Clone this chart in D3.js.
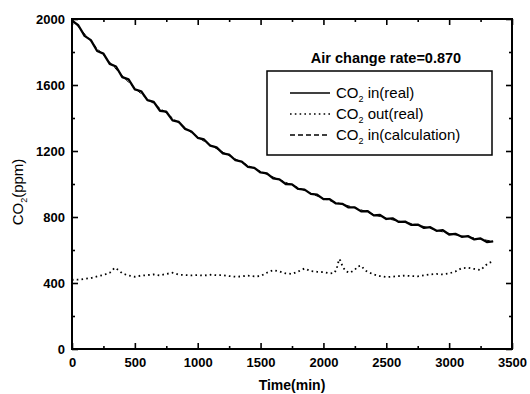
<!DOCTYPE html>
<html>
<head>
<meta charset="utf-8">
<script src="https://cdn.jsdelivr.net/npm/d3@7"></script>
<style>
  body { margin: 0; background: #fff; }
  svg { display: block; font-family: Arial, "Liberation Sans", sans-serif; }
</style>
</head>
<body>
<div id="chart"></div>
<script>
// indoor CO2 (real), one reading every 50 min from t = 0
var inStep = 50;
var inValues = [1990, 1962, 1898, 1872, 1806, 1790, 1728, 1712, 1648, 1634,
    1574, 1562, 1508, 1498, 1444, 1438, 1386, 1376, 1334, 1318,
    1280, 1270, 1232, 1222, 1186, 1178, 1144, 1136, 1104, 1098,
    1070, 1064, 1034, 1028, 1000, 998, 970, 966, 940, 936,
    908, 908, 882, 880, 858, 858, 834, 836, 810, 812,
    788, 792, 770, 772, 752, 754, 734, 738, 716, 720,
    694, 698, 680, 684, 664, 670, 648, 652];

// outdoor CO2 (real), [time, ppm]
var outPoints = [[0, 418], [25, 422], [50, 420], [100, 425], [150, 430], [200, 440],
    [250, 448], [300, 462], [340, 492], [370, 478], [400, 458], [450, 445],
    [500, 438], [550, 445], [600, 448], [650, 452], [700, 446], [750, 455],
    [800, 462], [850, 450], [900, 448], [950, 446], [1000, 448], [1050, 445],
    [1100, 450], [1150, 447], [1200, 448], [1250, 442], [1300, 438], [1350, 440],
    [1400, 445], [1450, 440], [1500, 442], [1550, 462], [1600, 478], [1650, 470],
    [1700, 458], [1750, 455], [1800, 470], [1850, 488], [1900, 472], [1950, 468],
    [2000, 466], [2050, 458], [2090, 462], [2110, 500], [2125, 545], [2135, 535],
    [2150, 505], [2175, 472], [2210, 462], [2250, 480], [2270, 500], [2300, 505],
    [2330, 478], [2350, 468], [2400, 452], [2450, 442], [2500, 436], [2550, 438],
    [2600, 442], [2650, 445], [2700, 442], [2750, 440], [2800, 446], [2850, 452],
    [2900, 455], [2950, 452], [3000, 458], [3050, 470], [3100, 490], [3150, 492],
    [3200, 485], [3250, 478], [3280, 500], [3310, 520], [3340, 528]];

// indoor CO2 (calculation), [time, ppm]
var calcPoints = [[0, 1998], [250, 1780], [500, 1580], [750, 1430], [1000, 1284],
    [1250, 1172], [1500, 1076], [1750, 994], [2000, 912], [2250, 856],
    [2500, 792], [2750, 752], [3000, 700], [3250, 666], [3350, 652]];

var xTicks = [0, 500, 1000, 1500, 2000, 2500, 3000, 3500];
var yTicks = [0, 400, 800, 1200, 1600, 2000];
var legendLabels = [' in(real)', ' out(real)', ' in(calculation)'];
var legendDash = [null, '1.6,3.2', '5,3'];
var titleText = 'Air change rate=0.870';

var fullwidth = 530;
var fullheight = 394;
var margin = { top: 19, right: 18, bottom: 45, left: 72 };

var svg = d3.select('#chart')
    .append('svg')
    .attr('width', fullwidth)
    .attr('height', fullheight);

var x = d3.scaleLinear().domain([0, 3500]).range([margin.left, fullwidth - margin.right]);
var y = d3.scaleLinear().domain([0, 2000]).range([fullheight - margin.bottom, margin.top]);

var x0 = x.range()[0], x1 = x.range()[1];
var y0 = y.range()[0], y1 = y.range()[1];

// minor ticks
var xMinor = d3.range(250, 3500, 500);
var yMinor = d3.range(200, 2000, 400);

function styleAxis(g) {
    g.select('.domain').remove();
    g.selectAll('line').attr('stroke', '#000').attr('stroke-width', 1.6);
    g.selectAll('text')
        .attr('fill', '#000')
        .style('font-size', '13px')
        .style('font-weight', 'bold');
}

svg.append('g').attr('transform', 'translate(0,' + y0 + ')')
    .call(d3.axisBottom(x).tickValues(xTicks).tickSize(-6).tickPadding(9).tickFormat(d3.format('d')))
    .call(styleAxis);
svg.append('g').attr('transform', 'translate(0,' + y0 + ')')
    .call(d3.axisBottom(x).tickValues(xMinor).tickSize(-3).tickFormat(''))
    .call(styleAxis);
svg.append('g').attr('transform', 'translate(0,' + y1 + ')')
    .call(d3.axisTop(x).tickValues(xTicks).tickSize(-6).tickFormat(''))
    .call(styleAxis);
svg.append('g').attr('transform', 'translate(0,' + y1 + ')')
    .call(d3.axisTop(x).tickValues(xMinor).tickSize(-3).tickFormat(''))
    .call(styleAxis);

svg.append('g').attr('transform', 'translate(' + x0 + ',0)')
    .call(d3.axisLeft(y).tickValues(yTicks).tickSize(-6).tickPadding(7).tickFormat(d3.format('d')))
    .call(styleAxis);
svg.append('g').attr('transform', 'translate(' + x0 + ',0)')
    .call(d3.axisLeft(y).tickValues(yMinor).tickSize(-3).tickFormat(''))
    .call(styleAxis);
svg.append('g').attr('transform', 'translate(' + x1 + ',0)')
    .call(d3.axisRight(y).tickValues(yTicks).tickSize(-6).tickFormat(''))
    .call(styleAxis);
svg.append('g').attr('transform', 'translate(' + x1 + ',0)')
    .call(d3.axisRight(y).tickValues(yMinor).tickSize(-3).tickFormat(''))
    .call(styleAxis);

// frame
svg.append('rect')
    .attr('x', x0).attr('y', y1)
    .attr('width', x1 - x0).attr('height', y0 - y1)
    .attr('fill', 'none')
    .attr('stroke', '#000')
    .attr('stroke-width', 2);

// series
var line = d3.line()
    .x(function(d) { return x(d[0]); })
    .y(function(d) { return y(d[1]); });

var inPoints = inValues.map(function(v, i) { return [i * inStep, v]; });

svg.append('path')
    .datum(calcPoints)
    .attr('d', line.curve(d3.curveMonotoneX))
    .attr('fill', 'none')
    .attr('stroke', '#000')
    .attr('stroke-width', 1)
    .attr('stroke-dasharray', '5,3');

line.curve(d3.curveLinear);

svg.append('path')
    .datum(inPoints)
    .attr('d', line)
    .attr('fill', 'none')
    .attr('stroke', '#000')
    .attr('stroke-width', 2.3)
    .attr('stroke-linejoin', 'round');

svg.append('path')
    .datum(outPoints)
    .attr('d', line)
    .attr('fill', 'none')
    .attr('stroke', '#000')
    .attr('stroke-width', 1.8)
    .attr('stroke-dasharray', '1.6,3.2');

// axis titles
svg.append('text')
    .attr('x', (x0 + x1) / 2)
    .attr('y', 390)
    .attr('text-anchor', 'middle')
    .style('font-size', '14px')
    .style('font-weight', 'bold')
    .text('Time(min)');

var yl = svg.append('text')
    .attr('transform', 'translate(23,192) rotate(-90)')
    .attr('text-anchor', 'middle')
    .style('font-size', '15px');
yl.append('tspan').text('CO');
yl.append('tspan').attr('dy', 4).style('font-size', '9px').text('2');
yl.append('tspan').attr('dy', -4).text('(ppm)');

// title and legend
svg.append('text')
    .attr('x', 386)
    .attr('y', 63)
    .attr('text-anchor', 'middle')
    .style('font-size', '14.5px')
    .style('font-weight', 'bold')
    .text(titleText);

var legend = svg.append('g');
legend.append('rect')
    .attr('x', 267).attr('y', 71)
    .attr('width', 225).attr('height', 84)
    .attr('fill', '#fff')
    .attr('stroke', '#000')
    .attr('stroke-width', 1.5);

legendLabels.forEach(function(lab, i) {
    var cy = 93 + i * 21;
    legend.append('line')
        .attr('x1', 290).attr('x2', 330)
        .attr('y1', cy).attr('y2', cy)
        .attr('stroke', '#000')
        .attr('stroke-width', i === 0 ? 1.4 : 1.6)
        .attr('stroke-dasharray', legendDash[i]);
    var t = legend.append('text')
        .attr('x', 336)
        .attr('y', cy + 5)
        .style('font-size', '15px');
    t.append('tspan').text('CO');
    t.append('tspan').attr('dy', 4).style('font-size', '9px').text('2');
    t.append('tspan').attr('dy', -4).text(lab);
});
</script>
</body>
</html>
